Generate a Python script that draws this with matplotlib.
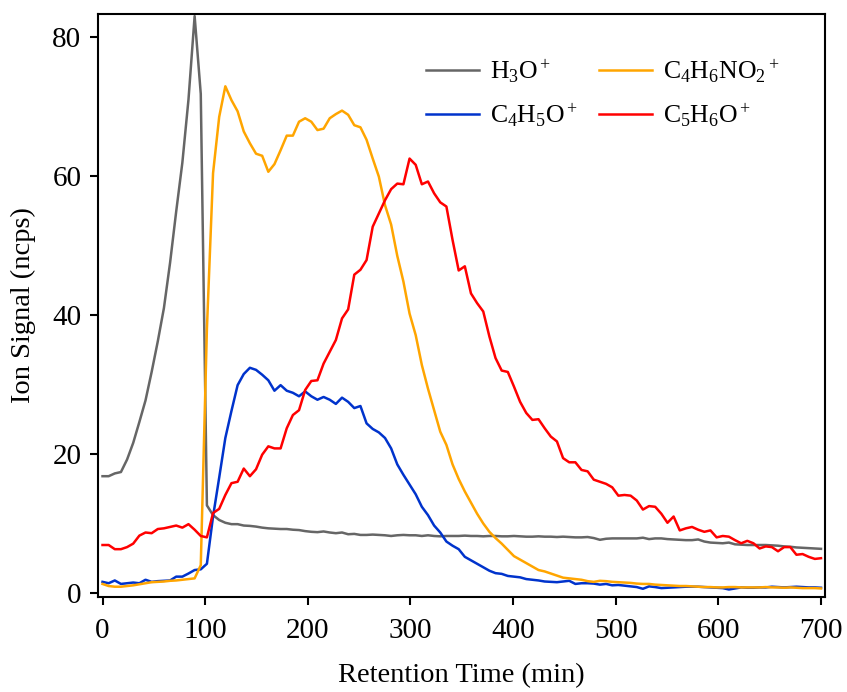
import numpy as np
import matplotlib
matplotlib.use("Agg")
import matplotlib.pyplot as plt

# retention time axis (one scan every ~6 min)
time = np.linspace(0, 700, 118)

h3o = [16.8, 16.8, 17.2, 17.4, 19.2, 21.6, 24.6, 27.7, 31.8, 36.2, 41.0, 47.5, 54.9, 61.9, 71.0, 83.0, 71.8, 12.6, 11.2, 10.5,
       10.1, 9.9, 9.9, 9.7, 9.65, 9.55, 9.4, 9.3, 9.25, 9.2, 9.2, 9.1, 9.05, 8.9, 8.8, 8.75, 8.85, 8.7, 8.6, 8.7,
       8.45, 8.5, 8.35, 8.35, 8.4, 8.35, 8.3, 8.2, 8.3, 8.35, 8.3, 8.3, 8.2, 8.3, 8.2, 8.15, 8.2, 8.2, 8.2, 8.25,
       8.2, 8.2, 8.15, 8.2, 8.2, 8.15, 8.15, 8.2, 8.15, 8.1, 8.1, 8.15, 8.1, 8.1, 8.05, 8.1, 8.05, 8.0, 8.0, 8.05,
       7.9, 7.65, 7.8, 7.85, 7.85, 7.85, 7.85, 7.85, 7.95, 7.75, 7.85, 7.85, 7.75, 7.7, 7.65, 7.6, 7.6, 7.7, 7.4, 7.25,
       7.2, 7.15, 7.25, 7.0, 6.95, 6.9, 6.9, 6.9, 6.9, 6.85, 6.8, 6.7, 6.65, 6.55, 6.5, 6.45, 6.4, 6.35]

c4h6no2 = [1.3, 1.0, 0.9, 0.9, 1.0, 1.1, 1.25, 1.4, 1.55, 1.6, 1.65, 1.75, 1.8, 1.9, 2.0, 2.1, 4.0, 38.0, 60.4, 68.5,
           72.9, 70.9, 69.3, 66.4, 64.7, 63.2, 62.9, 60.6, 61.7, 63.7, 65.8, 65.8, 67.8, 68.3, 67.8, 66.6, 66.8, 68.3, 68.9, 69.4,
           68.8, 67.3, 67.0, 65.2, 62.5, 59.9, 55.8, 53.0, 48.5, 44.8, 40.2, 37.1, 32.8, 29.4, 26.3, 23.2, 21.3, 18.5, 16.4, 14.6,
           13.0, 11.4, 10.0, 8.8, 7.9, 7.1, 6.2, 5.3, 4.8, 4.3, 3.8, 3.3, 3.1, 2.8, 2.5, 2.2, 2.1, 2.0, 1.9, 1.7,
           1.6, 1.75, 1.7, 1.6, 1.55, 1.5, 1.45, 1.35, 1.3, 1.3, 1.2, 1.15, 1.1, 1.05, 1.0, 1.0, 0.95, 0.9, 0.85, 0.85,
           0.8, 0.8, 0.85, 0.85, 0.8, 0.8, 0.8, 0.8, 0.85, 0.8, 0.8, 0.75, 0.8, 0.75, 0.7, 0.7, 0.7, 0.65]

c4h5o = [1.6, 1.4, 1.8, 1.3, 1.4, 1.5, 1.4, 1.9, 1.6, 1.7, 1.75, 1.8, 2.35, 2.35, 2.8, 3.3, 3.4, 4.2, 11.0, 16.6,
         22.3, 26.2, 29.9, 31.5, 32.4, 32.1, 31.4, 30.6, 29.1, 29.9, 29.1, 28.8, 28.3, 29.0, 28.3, 27.8, 28.2, 27.8, 27.2, 28.1,
         27.5, 26.6, 26.9, 24.4, 23.6, 23.1, 22.3, 20.8, 18.5, 17.0, 15.6, 14.2, 12.4, 11.2, 9.7, 8.7, 7.4, 6.8, 6.3, 5.2,
         4.7, 4.2, 3.7, 3.2, 2.85, 2.75, 2.45, 2.35, 2.25, 2.0, 1.9, 1.8, 1.65, 1.6, 1.55, 1.65, 1.75, 1.3, 1.4, 1.4,
         1.35, 1.2, 1.3, 1.1, 1.15, 1.05, 0.95, 0.85, 0.6, 0.95, 0.85, 0.7, 0.75, 0.8, 0.85, 0.9, 0.9, 0.9, 0.85, 0.8,
         0.75, 0.7, 0.5, 0.65, 0.8, 0.75, 0.75, 0.8, 0.8, 0.9, 0.85, 0.8, 0.85, 0.9, 0.85, 0.8, 0.8, 0.75]

c5h6o = [6.9, 6.9, 6.3, 6.3, 6.6, 7.1, 8.25, 8.7, 8.6, 9.2, 9.3, 9.5, 9.7, 9.4, 9.9, 9.1, 8.2, 8.0, 11.5, 12.1,
         14.1, 15.8, 16.0, 17.9, 16.8, 17.8, 19.9, 21.1, 20.8, 20.8, 23.7, 25.6, 26.3, 29.2, 30.5, 30.6, 33.0, 34.7, 36.4, 39.5,
         40.8, 45.8, 46.5, 47.9, 52.7, 54.6, 56.5, 58.1, 58.9, 58.8, 62.5, 61.6, 58.8, 59.2, 57.5, 56.2, 55.6, 50.8, 46.4, 47.0,
         43.1, 41.7, 40.5, 36.9, 33.8, 32.0, 31.8, 29.7, 27.5, 25.9, 24.9, 25.0, 23.7, 22.5, 21.8, 19.4, 18.8, 18.8, 17.7, 17.5,
         16.3, 16.0, 15.7, 15.2, 14.0, 14.1, 14.0, 13.3, 12.0, 12.5, 12.4, 11.4, 10.1, 11.0, 9.0, 9.3, 9.5, 9.1, 8.8, 9.0,
         8.0, 8.2, 8.1, 7.6, 7.15, 7.5, 7.15, 6.4, 6.7, 6.6, 6.0, 6.6, 6.6, 5.5, 5.6, 5.2, 4.9, 5.0]

labels = [r"$\mathrm{H_3O^+}$", r"$\mathrm{C_4H_5O^+}$", r"$\mathrm{C_4H_6NO_2{}^+}$", r"$\mathrm{C_5H_6O^+}$"]
colors = ["#666666", "#0033cc", "#ffa500", "#ff0000"]

plt.rcParams["font.family"] = "Liberation Serif"
plt.rcParams["mathtext.fontset"] = "custom"
plt.rcParams["mathtext.rm"] = "Liberation Serif"
plt.rcParams["mathtext.it"] = "Liberation Serif:italic"

fig = plt.figure(figsize=(8.47, 6.92), dpi=100)
ax = fig.add_axes([98 / 847, 1 - 597 / 692, 727 / 847, 583 / 692])

for y, c, lab in zip([h3o, c4h5o, c4h6no2, c5h6o], colors, labels):
    ax.plot(time, y, color=c, lw=1.8, label=lab)

ax.set_xlim(-4.4, 703.9)
ax.set_ylim(-0.58, 83.3)
ax.set_xticks(range(0, 701, 100))
ax.set_yticks(range(0, 81, 20))

for s in ax.spines.values():
    s.set_linewidth(1.5)
ax.tick_params(axis="both", direction="out", length=6, width=1.5, labelsize=21)
ax.tick_params(axis="x", pad=9)
ax.tick_params(axis="y", pad=6)

ax.set_xlabel("Retention Time (min)", fontsize=20.5, labelpad=14)
ax.set_ylabel("Ion Signal (ncps)", fontsize=20.5, labelpad=12)

ax.legend(loc="upper left", bbox_to_anchor=(0.451, 0.925), ncol=2, frameon=False,
          fontsize=18.5, handlelength=2.06, handletextpad=0.43, columnspacing=0.83,
          labelspacing=0.63, borderpad=0, borderaxespad=0)

fig.savefig("out.png", dpi=100)
